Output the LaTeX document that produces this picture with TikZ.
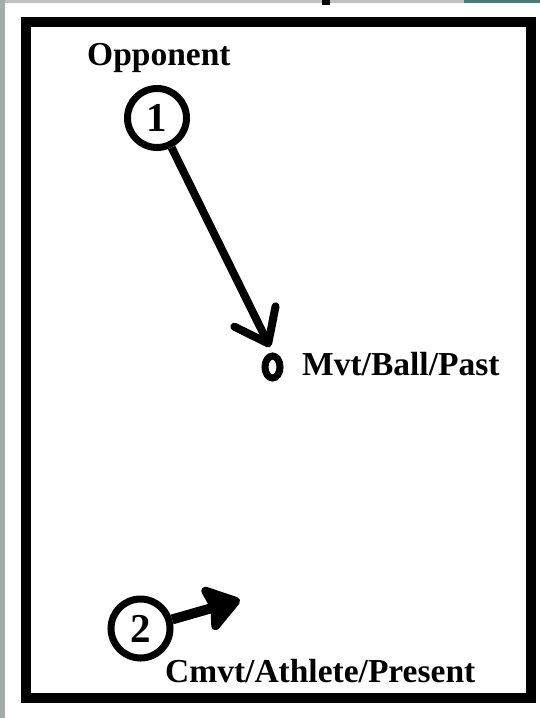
\documentclass[tikz,border=0pt]{standalone}
\usepackage{fontspec}
\setmainfont{Liberation Serif}
\usetikzlibrary{arrows.meta,shapes.geometric}
\definecolor{stripgrey}{HTML}{A3ACAA}
\definecolor{topgrey}{HTML}{C0C0C0}
\definecolor{edgeteal}{HTML}{4D7A78}
\begin{document}
\begin{tikzpicture}[x=1pt,y=-1pt,
  lbl/.style={font=\fontsize{33.5}{40}\selectfont\bfseries, inner sep=0pt},
  player/.style={circle, draw, line width=7pt, minimum size=59pt, inner sep=0pt, font=\fontsize{41}{44}\selectfont\bfseries},
  ballmark/.style={ellipse, draw, line width=7pt, minimum width=15pt, minimum height=22pt, inner sep=0pt},
  passarrow/.style={line width=8pt, -{Straight Barb[length=30pt,width=46pt,round]}},
  runarrow/.style={line width=10pt, -{Stealth[length=40pt,width=54pt,inset=6pt,round]}}]
\useasboundingbox (0,0) rectangle (540,718);
\fill[white] (0,0) rectangle (540,718);
\fill[stripgrey] (0,0) rectangle (5,718);
\fill[topgrey] (5,0) rectangle (464,3);
\fill[edgeteal] (464,0) rectangle (540,3);
\fill[black] (322,0) rectangle (330,4.5);
\draw[line width=10pt] (25.5,22) rectangle (531,698);
\node[player] (p1) at (157,118) {1};
\node[lbl, anchor=base west] (opp) at (87,65) {Opponent};
\node[ballmark] (ball) at (272.5,367) {};
\node[lbl, anchor=base west] (balltxt) at (302,375) {Mvt/Ball/Past};
\coordinate (tip1) at (270,347);
\draw[passarrow] (p1) -- (tip1);
\node[player] (p2) at (140.5,628.5) {2};
\coordinate (tip2) at (240,600);
\draw[runarrow] (p2) -- (tip2);
\node[lbl, anchor=base west] (athlete) at (165,682) {Cmvt/Athlete/Present};
\end{tikzpicture}
\end{document}
